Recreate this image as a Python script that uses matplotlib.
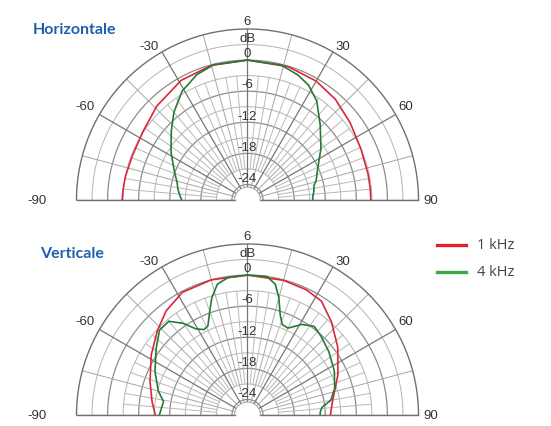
import numpy as np
import matplotlib.pyplot as plt
from matplotlib.lines import Line2D

# Horizontal polar response (angle in degrees, level in dB)
h_1k_ang = [-90, -85, -79, -69, -57, -44, -29, -15, 0, 17, 30, 41, 53, 66, 78, 85, 90]
h_1k_db = [-2.8, -2.9, -3.0, -3.2, -2.9, -1.8, -0.6, -0.1, 0.0, -0.1, -0.5, -1.2, -2.2, -3.0, -3.2, -3.2, -3.2]
h_4k_ang = [-90, -86, -81, -76, -69, -58, -48, -40, -31, -22, -14, 0, 14, 22, 28, 35, 44, 55, 68, 74, 78, 83, 87, 90]
h_4k_db = [-14.3, -13.9, -13.4, -13.0, -11.9, -9.6, -7.2, -4.9, -2.5, -0.9, -0.1, 0.0, -0.15, -1.0, -1.9, -3.7, -6.8, -9.7, -12.5, -13.2, -13.9, -14.1, -14.4, -14.4]

# Vertical polar response
v_1k_ang = [-90, -82, -71, -58, -47, -38, -28, -15, 0, 15, 25, 33, 42, 53, 66, 80, 86, 90]
v_1k_db = [-9.2, -8.4, -7.1, -5.1, -3.2, -1.5, -0.2, 0.0, 0.0, -0.1, -0.3, -0.8, -2.8, -5.2, -7.9, -10.3, -10.8, -11.0]
v_4k_ang = [-90, -86, -81, -75, -65, -54, -46, -40, -35, -31, -27, -24, -20, -17, -13, -8, 0, 8, 12, 15, 18, 21, 25, 31, 37, 43, 52, 63, 73, 80, 84, 87, 90]
v_4k_db = [-10.0, -10.3, -10.6, -9.2, -7.3, -5.2, -3.4, -3.4, -5.4, -7.6, -8.5, -8.2, -5.7, -3.4, -1.1, -0.2, 0.0, 0.0, -1.2, -3.6, -6.6, -8.3, -8.5, -6.6, -5.6, -6.2, -7.1, -8.2, -9.4, -10.7, -12.5, -12.9, -13.0]

angle_ticks = [-90, -60, -30, 30, 60, 90]
db_ticks = [6, 0, -6, -12, -18, -24]
legend_labels = ["1 kHz", "4 kHz"]

RED = "#d8283a"
GREEN = "#267a36"
LEG_RED = "#e3232b"
LEG_GREEN = "#3da847"
BLUE = "#1f60ab"
TXT = "#333333"

W, H = 551, 427
fig = plt.figure(figsize=(W / 100, H / 100), dpi=100)
fig.patch.set_facecolor("white")

R_ORIGIN = -27.0
R_MIN = -24.5
R_MAX = 6.0


def polar_panel(cy, title, title_x, title_y, curves):
    # half-disc centred at x=247.5 px, baseline at cy px, radius 171 px;
    # the polar box is square and the half-disc sits in its middle
    rad = 171
    ax = fig.add_axes([(247.5 - rad) / W, (H - cy - rad / 2) / H,
                       2 * rad / W, 2 * rad / H], projection="polar")
    ax.set_theta_zero_location("N")
    ax.set_theta_direction(-1)
    ax.set_thetamin(-90)
    ax.set_thetamax(90)
    ax.set_rorigin(R_ORIGIN)
    ax.set_ylim(R_MIN, R_MAX)
    ax.set_xticks([])
    ax.set_yticks([])
    ax.grid(False)
    for name, sp in ax.spines.items():
        sp.set_color("#707070")
        sp.set_linewidth(1.0)
    ax.spines["inner"].set_color("#a0a0a0")
    ax.spines["inner"].set_linewidth(0.7)

    t = np.radians(np.linspace(-90, 90, 361))
    # rings every 3 dB
    for lev in np.arange(-24, 6, 3):
        major = lev % 6 == 0
        ax.plot(t, np.full_like(t, lev), color="#8c8c8c" if major else "#b4b4b4",
                lw=0.9 if major else 0.7, zorder=1)
    # spokes: every 15 deg full length, 5 deg in the middle band
    for a in range(-90, 91, 5):
        if a % 15 == 0:
            major = a % 30 == 0
            ax.plot([np.radians(a)] * 2, [R_MIN, R_MAX],
                    color="#777777" if major else "#a6a6a6",
                    lw=0.9 if major else 0.7, zorder=1)
        else:
            ax.plot([np.radians(a)] * 2, [-21, -3],
                    color="#b8b8b8", lw=0.7, zorder=1)

    for ang, db, col in curves:
        ax.plot(np.radians(ang), db, color=col, lw=1.2, zorder=3)

    # radial labels along the 0 deg spoke
    for lev in db_ticks:
        r = 7.5 if lev == 6 else lev + 1.3
        ax.text(0, r, str(lev), ha="center", va="center", fontsize=9.5,
                color=TXT, family="Liberation Sans", zorder=4)
    ax.text(0, 4.3, "dB", ha="center", va="center", fontsize=9.5,
            color=TXT, family="Liberation Sans", zorder=4)

    # angle labels
    lab_pos = {-90: (-90, 13.7), -60: (-60.1, 9.2), -30: (-32.5, 8.2),
               30: (31.7, 7.9), 60: (59.4, 8.5), 90: (90, 8.4)}
    for a in angle_ticks:
        th, r = lab_pos[a]
        ax.text(np.radians(th), r, str(a), ha="center", va="center",
                fontsize=9.5, color=TXT, family="Liberation Sans")

    fig.text(title_x / W, 1 - title_y / H, title, ha="left", va="center",
             fontsize=11.5, fontweight="bold", color=BLUE, family="Lato")
    return ax


polar_panel(201, "Horizontale", 33, 30,
            [(h_1k_ang, h_1k_db, RED), (h_4k_ang, h_4k_db, GREEN)])
polar_panel(416, "Verticale", 40, 254,
            [(v_1k_ang, v_1k_db, RED), (v_4k_ang, v_4k_db, GREEN)])

# legend
for i, (lab, col) in enumerate(zip(legend_labels, [LEG_RED, LEG_GREEN])):
    y = 1 - (246 + 27 * i) / H
    fig.add_artist(Line2D([437 / W, 466 / W], [y, y], color=col, lw=2.4))
    fig.text(477 / W, y, lab, ha="left", va="center", fontsize=10.5,
             color="#444444", family="Open Sans")

fig.savefig("out.png", dpi=100, facecolor="white")
